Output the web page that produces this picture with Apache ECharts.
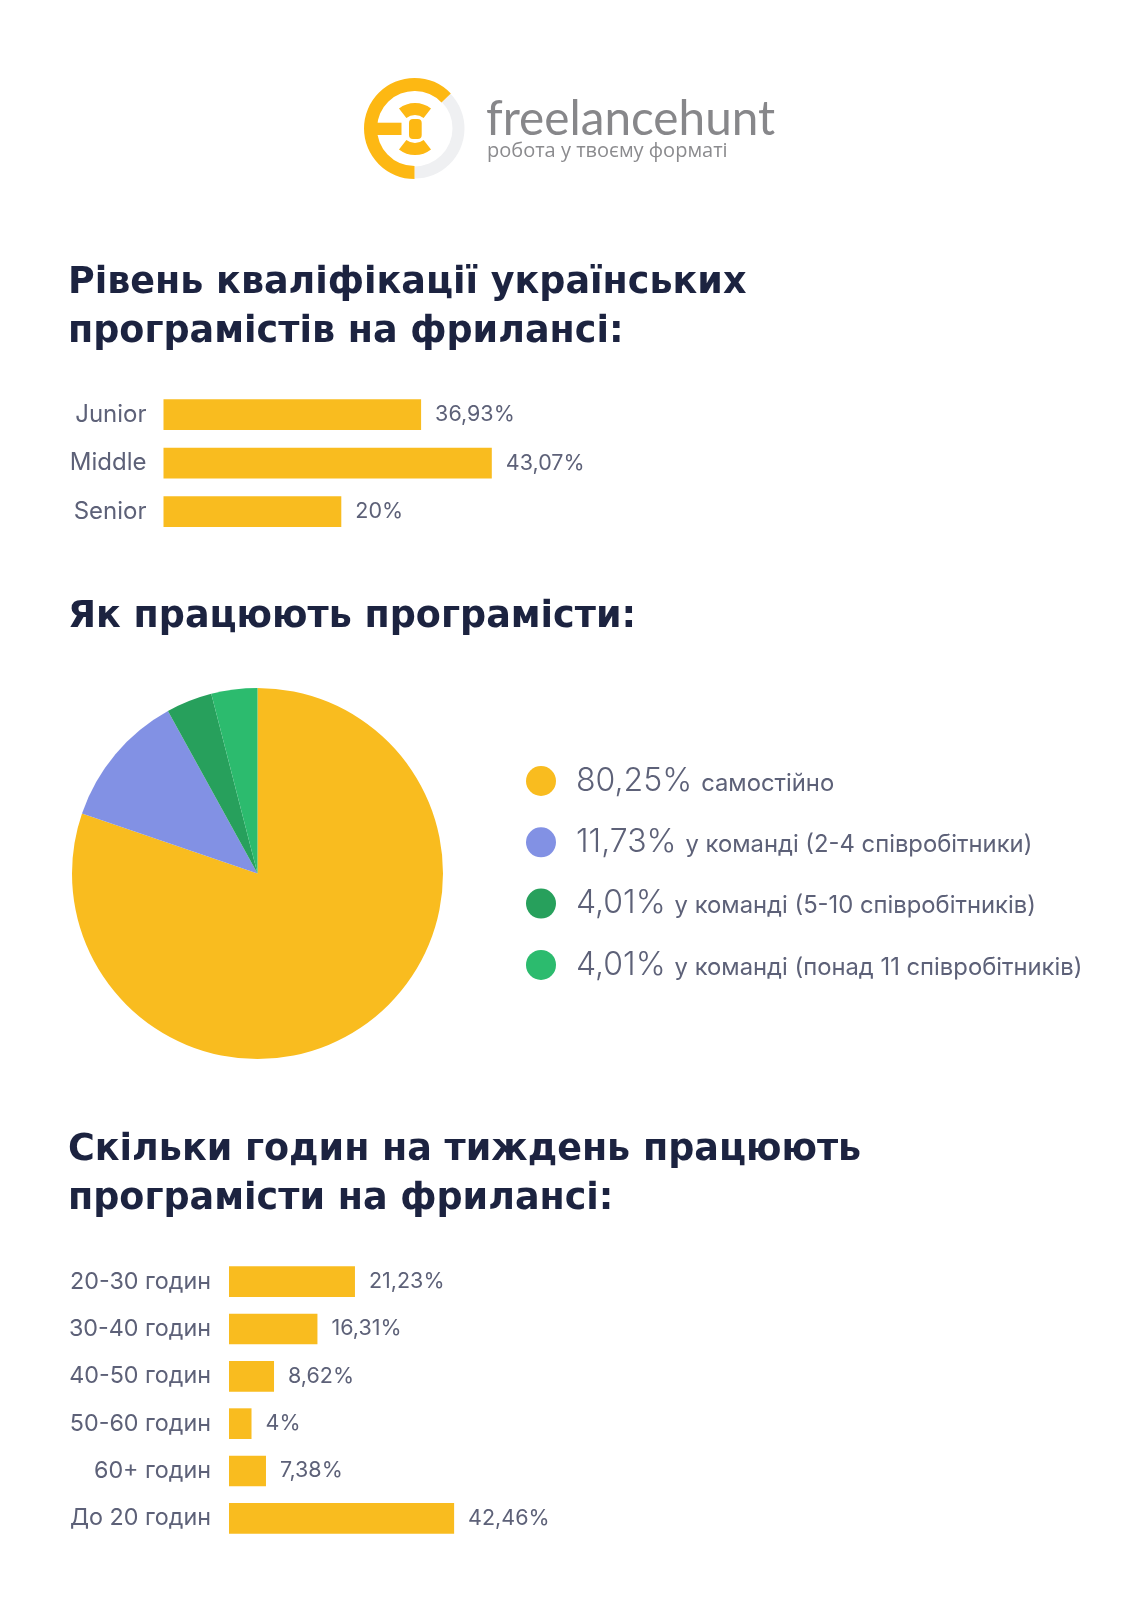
<!DOCTYPE html>
<html><head><meta charset="utf-8">
<style>html,body{margin:0;padding:0;background:#fff}#c{width:1138px;height:1600px}</style>
<script src="https://cdn.jsdelivr.net/npm/echarts@6/dist/echarts.min.js"></script>
</head><body><div id="c"></div>
<script>
// Printed values are the labels; the source infographic's bars are not drawn strictly
// to scale, so the lengths read off the picture are kept separately (percent-axis units).
const levelCategories = ['Junior','Middle','Senior'];
const levelLabels = ['36,93%','43,07%','20%'];
const levelLengths = [36.8,46.9,25.4];
const workNames = ['самостійно','у команді (2-4 співробітники)','у команді (5-10 співробітників)','у команді (понад 11 співробітників)'];
const workValues = [80.25,11.73,4.01,4.01];
const workLabels = ['80,25%','11,73%','4,01%','4,01%'];
const hourCategories = ['20-30 годин','30-40 годин','40-50 годин','50-60 годин','60+ годин','До 20 годин'];
const hourLabels = ['21,23%','16,31%','8,62%','4%','7,38%','42,46%'];
const hourLengths = [23.5,16.5,8.4,4.2,6.9,42];
const titles = ['Рівень кваліфікації українських\nпрограмістів на фрилансі:','Як працюють програмісти:','Скільки годин на тиждень працюють\nпрограмісти на фрилансі:'];

const FONT='Inter', TXT='#5d6178', YEL='#f9bc1f', DARK='#1c2340';
const chart = echarts.init(document.getElementById('c'),null,{renderer:'canvas',width:1138,height:1600});
const deg=d=>d*Math.PI/180;
const cx=414.5, cy=128.5;
function barSeries(i,lengths,labels){return {type:'bar',xAxisIndex:i,yAxisIndex:i,data:lengths,barWidth:30.7,silent:true,
  itemStyle:{color:YEL},
  label:{show:true,position:'right',distance:14,fontFamily:FONT,fontSize:21.5,color:TXT,
    formatter:p=>labels[p.dataIndex]}};}
function cat(i,data,fs,m){return {type:'category',gridIndex:i,data,inverse:true,axisLine:{show:false},axisTick:{show:false},
  axisLabel:{fontFamily:FONT,fontSize:fs,color:TXT,margin:m,verticalAlign:'middle'}};}
chart.setOption({
  animation:false,backgroundColor:'#fff',
  title:titles.map((t,i)=>({text:t,left:63,top:[254,588,1121][i],itemGap:0,
    textStyle:{fontFamily:'DejaVu Sans',fontWeight:700,fontSize:36.5,lineHeight:49,color:DARK}})),
  grid:[{left:163.5,top:390.3,width:700,height:145.5},{left:229,top:1258,width:536,height:284}],
  xAxis:[{type:'value',gridIndex:0,min:0,max:100,show:false},{type:'value',gridIndex:1,min:0,max:100,show:false}],
  yAxis:[cat(0,levelCategories,24,17),cat(1,hourCategories,23.3,18)],
  legend:{orient:'vertical',left:526,top:765,padding:0,itemWidth:30,itemHeight:30,itemGap:29.3,icon:'circle',selectedMode:false,
    data:workNames,
    formatter:n=>{const k=workNames.indexOf(n);return '{a|'+workLabels[k]+'}{b|'+n+'}';},
    textStyle:{rich:{a:{fontFamily:FONT,fontSize:32,fontWeight:300,color:TXT,padding:[0,0,0,15]},b:{fontFamily:FONT,fontSize:23.8,color:TXT,padding:[5,0,0,9]}}}},
  series:[
    barSeries(0,levelLengths,levelLabels),
    barSeries(1,hourLengths,hourLabels),
    {type:'pie',center:[257.5,873.5],radius:[0,185.5],startAngle:90,clockwise:true,silent:true,label:{show:false},labelLine:{show:false},
     color:[YEL,'#8291e4','#27a05c','#2cbb6e'],
     data:workNames.map((n,i)=>({name:n,value:workValues[i]}))}
  ],
  graphic:[
    {type:'sector',shape:{cx,cy,r:50,r0:38,startAngle:deg(-44),endAngle:deg(90),clockwise:true},style:{fill:'#eff0f2'}},
    {type:'sector',shape:{cx,cy,r:50.5,r0:37.5,startAngle:deg(90),endAngle:deg(316),clockwise:true},style:{fill:'#fdb813'}},
    {type:'rect',shape:{x:376,y:122.7,width:25.5,height:12.3},style:{fill:'#fdb813'}},
    {type:'rect',shape:{x:409,y:119,width:12.7,height:20,r:4},style:{fill:'#fdb813'}},
    {type:'sector',shape:{cx:415,cy:129,r:26,r0:14,startAngle:deg(-128),endAngle:deg(-52),clockwise:true},style:{fill:'#fdb813'}},
    {type:'sector',shape:{cx:415,cy:129,r:26,r0:14,startAngle:deg(52),endAngle:deg(128),clockwise:true},style:{fill:'#fdb813'}},
    {type:'text',x:486,y:119.5,style:{text:'freelancehunt',fontFamily:'Lato',fontWeight:400,fontSize:47.7,fill:'#87878a',verticalAlign:'middle'}},
    {type:'text',x:487,y:151,style:{text:'робота у твоєму форматі',fontFamily:'Open Sans',fontWeight:400,fontSize:20,fill:'#8b8b8e',verticalAlign:'middle'}}
  ]
});
</script></body></html>
